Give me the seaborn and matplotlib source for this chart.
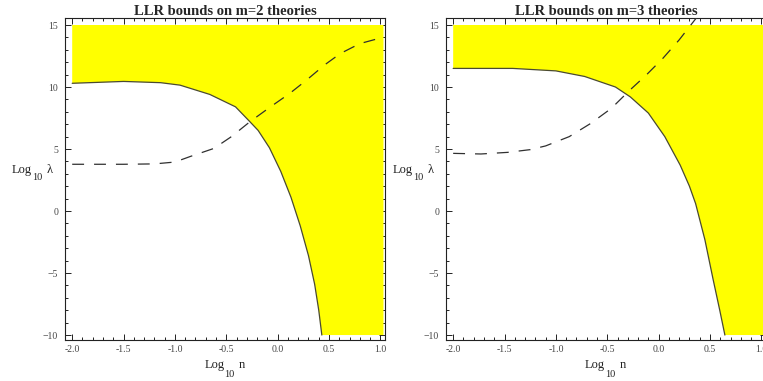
import numpy as np
import matplotlib
matplotlib.use("Agg")
import matplotlib.pyplot as plt
from matplotlib.ticker import MultipleLocator, FormatStrFormatter
import seaborn as sns

# Exclusion boundaries (solid) and reference curves (dashed), log10 n vs log10 lambda
m2_bound_x = [-2.0, -1.5, -1.14, -0.95, -0.66, -0.41, -0.27, -0.19, -0.08, 0.03, 0.13, 0.22, 0.30, 0.36, 0.40, 0.43]
m2_bound_y = [10.3, 10.45, 10.35, 10.15, 9.4, 8.4, 7.2, 6.5, 5.1, 3.2, 1.1, -1.2, -3.6, -5.9, -8.0, -10.0]
m2_dash_x = [-2.0, -1.5, -1.2, -1.0, -0.85, -0.62, -0.45, -0.27, -0.07, 0.12, 0.28, 0.46, 0.61, 0.80, 1.0]
m2_dash_y = [3.77, 3.77, 3.8, 3.95, 4.4, 5.05, 6.0, 7.2, 8.4, 9.5, 10.55, 11.8, 12.7, 13.5, 13.95]

m3_bound_x = [-2.0, -1.42, -1.0, -0.72, -0.42, -0.275, -0.10, 0.06, 0.21, 0.30, 0.36, 0.45, 0.53, 0.595, 0.645]
m3_bound_y = [11.5, 11.5, 11.3, 10.85, 10.0, 9.2, 7.9, 6.0, 3.7, 2.0, 0.6, -2.3, -5.5, -8.0, -10.0]
m3_dash_x = [-2.0, -1.73, -1.47, -1.25, -1.1, -0.87, -0.66, -0.46, -0.28, -0.12, 0.04, 0.20, 0.37]
m3_dash_y = [4.65, 4.6, 4.73, 4.95, 5.25, 6.0, 7.07, 8.28, 9.75, 10.97, 12.3, 13.8, 15.6]

titles = ["LLR bounds on m=2 theories", "LLR bounds on m=3 theories"]
region_top = 15.0
region_bottom = -10.0
region_right = 1.03

sns.set_style("ticks")
plt.rcParams["font.family"] = ["Liberation Serif", "DejaVu Serif"]

fig = plt.figure(figsize=(7.63, 3.81), dpi=100)
axes = [fig.add_axes([0.0852, 0.1076, 0.4194, 0.845]),
        fig.add_axes([0.5845, 0.1076, 0.4194, 0.845])]

panels = [(m2_bound_x, m2_bound_y, m2_dash_x, m2_dash_y),
          (m3_bound_x, m3_bound_y, m3_dash_x, m3_dash_y)]


def sub_label(ax, anchor, pieces):
    """Write a label made of pieces (text, dx_pt, dy_pt, size) offset from an axes anchor."""
    for txt, dx, dy, size in pieces:
        ax.annotate(txt, xy=anchor, xycoords="axes fraction",
                    xytext=(dx, dy), textcoords="offset points",
                    ha="left", va="baseline", fontsize=size, color="#222222",
                    annotation_clip=False)


for ax, (bx, by, dx, dy), title in zip(axes, panels, titles):
    # excluded region: above / right of the boundary curve
    poly_x = list(bx) + [region_right, region_right, bx[0]]
    poly_y = list(by) + [region_bottom, region_top, region_top]
    ax.fill(poly_x, poly_y, color="#ffff00", lw=0, zorder=1)

    sns.lineplot(x=bx, y=by, ax=ax, color="#4a4a30", lw=0.9,
                 estimator=None, sort=False, zorder=3)
    sns.lineplot(x=dx, y=dy, ax=ax, color="#303030", lw=0.9,
                 estimator=None, sort=False, zorder=3)
    ax.lines[-1].set_dashes((9.5, 8))

    ax.set_xlim(-2.07, 1.045)
    ax.set_ylim(-10.4, 15.56)
    ax.xaxis.set_major_locator(MultipleLocator(0.5))
    ax.xaxis.set_minor_locator(MultipleLocator(0.1))
    ax.yaxis.set_major_locator(MultipleLocator(5))
    ax.yaxis.set_minor_locator(MultipleLocator(1))
    ax.xaxis.set_major_formatter(FormatStrFormatter("%.1f"))
    ax.tick_params(which="both", direction="in", top=True, right=True,
                   colors="#222222", labelcolor="#444444", labelsize=7, width=0.7)
    ax.tick_params(which="major", length=4.5)
    ax.tick_params(axis="y", which="major", pad=5)
    ax.tick_params(axis="x", which="major", pad=3.5)
    ax.tick_params(which="minor", length=2.2)
    for s in ax.spines.values():
        s.set_visible(True)
        s.set_color("#222222")
        s.set_linewidth(0.8)

    ax.set_title(title, fontsize=10.5, fontweight="bold", pad=1.5)
    ax.set_xlabel("")
    ax.set_ylabel("")
    # x label: Log_10 n
    sub_label(ax, (0.5, 0.0), [("Log", -15.0, -20.2, 9),
                               ("10", -0.7, -26.6, 7.5),
                               ("n", 10.0, -20.2, 9)])
    # y label: Log_10 λ
    sub_label(ax, (0.0, 0.5), [("Log", -38.2, 4.3, 9),
                               ("10", -23.8, -0.7, 7.5),
                               ("λ", -13.0, 4.3, 9)])

fig.savefig("out.png", dpi=100, facecolor="white")
